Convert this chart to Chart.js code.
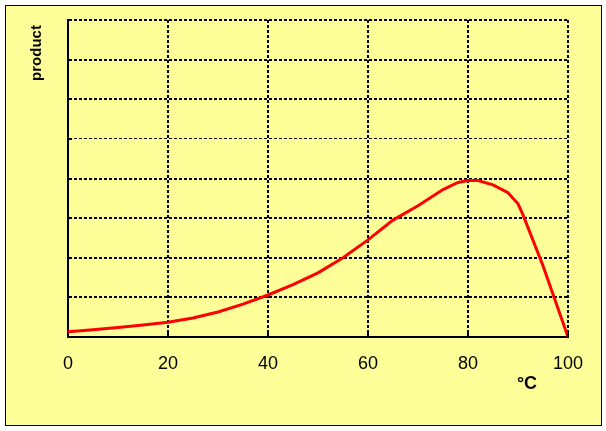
<!DOCTYPE html>
<html>
<head>
<meta charset="utf-8">
<script src="https://cdn.jsdelivr.net/npm/chart.js@4/dist/chart.umd.min.js"></script>
<style>
  html, body { margin: 0; padding: 0; background: #fff; }
  #wrap { width: 606px; height: 431px; }
</style>
</head>
<body>
<div id="wrap"><canvas id="prodChart" width="606" height="431"></canvas></div>
<script>
// temperature (°C) and product amount
const temps = [0, 5, 10, 15, 20, 25, 30, 35, 40, 45, 50, 55, 60, 65, 70, 75, 78, 80, 82, 85, 88, 90, 91, 95, 100];
const product = [0.13, 0.18, 0.24, 0.30, 0.37, 0.48, 0.63, 0.83, 1.06, 1.32, 1.62, 2.0, 2.45, 2.95, 3.31, 3.72, 3.90, 3.95, 3.95, 3.84, 3.64, 3.36, 3.08, 1.8, 0];
const xTicks = [0, 20, 40, 60, 80, 100];

// yellow panel, frame, titles and the small inner tick marks
const decor = {
  id: 'decor',
  beforeDraw(chart) {
    const ctx = chart.ctx;
    ctx.save();
    ctx.fillStyle = '#ffff99';
    ctx.fillRect(5, 5, 597, 421);
    ctx.strokeStyle = '#000';
    ctx.lineWidth = 1;
    ctx.strokeRect(5.5, 5.5, 596, 420);
    ctx.restore();
  },
  afterDraw(chart) {
    const ctx = chart.ctx;
    const x = chart.scales.x, y = chart.scales.y;
    const area = chart.chartArea;
    ctx.save();
    ctx.strokeStyle = '#000';
    ctx.lineWidth = 2;
    xTicks.forEach(v => {
      const px = Math.round(x.getPixelForValue(v));
      ctx.beginPath();
      ctx.moveTo(px, area.bottom);
      ctx.lineTo(px, area.bottom - 4);
      ctx.stroke();
    });
    for (let v = 1; v <= 8; v++) {
      const py = Math.round(y.getPixelForValue(v));
      ctx.beginPath();
      ctx.moveTo(area.left, py);
      ctx.lineTo(area.left + 4, py);
      ctx.stroke();
    }
    ctx.fillStyle = '#000';
    ctx.font = 'bold 18px "Liberation Sans", Arial, sans-serif';
    ctx.textAlign = 'center';
    ctx.textBaseline = 'middle';
    ctx.fillText('°C', 527, 384);
    ctx.translate(37, 53);
    ctx.rotate(-Math.PI / 2);
    ctx.font = 'bold 15px "Liberation Sans", Arial, sans-serif';
    ctx.fillText('product', 0, 0);
    ctx.restore();
  }
};

const ctx = document.getElementById('prodChart').getContext('2d');

new Chart(ctx, {
  type: 'line',
  data: {
    labels: temps,
    datasets: [{
      data: temps.map((t, i) => ({ x: t, y: product[i] })),
      borderColor: '#ff0000',
      borderWidth: 3,
      pointRadius: 0,
      tension: 0,
      fill: false
    }]
  },
  options: {
    responsive: false,
    animation: false,
    layout: { padding: { left: 0, top: 20, right: 38, bottom: 0 } },
    plugins: { legend: { display: false }, tooltip: { enabled: false } },
    scales: {
      x: {
        type: 'linear',
        min: 0,
        max: 100,
        afterBuildTicks: s => { s.ticks = xTicks.map(v => ({ value: v })); },
        afterFit: s => { s.height = 94; },
        grid: { color: '#000', lineWidth: 2, drawTicks: false },
        border: { color: '#000', width: 2, dash: [3, 2] },
        ticks: {
          color: '#000',
          padding: 16,
          font: { family: '"Liberation Sans", Arial, sans-serif', size: 18 }
        }
      },
      y: {
        min: 0,
        max: 8,
        afterFit: s => { s.width = 68; },
        grid: {
          color: '#000',
          lineWidth: c => (c.tick && c.tick.value === 5 ? 1 : 2),
          drawTicks: false
        },
        border: { color: '#000', width: 2, dash: [3, 2] },
        ticks: { stepSize: 1, display: false }
      }
    }
  },
  plugins: [decor]
});
</script>
</body>
</html>
